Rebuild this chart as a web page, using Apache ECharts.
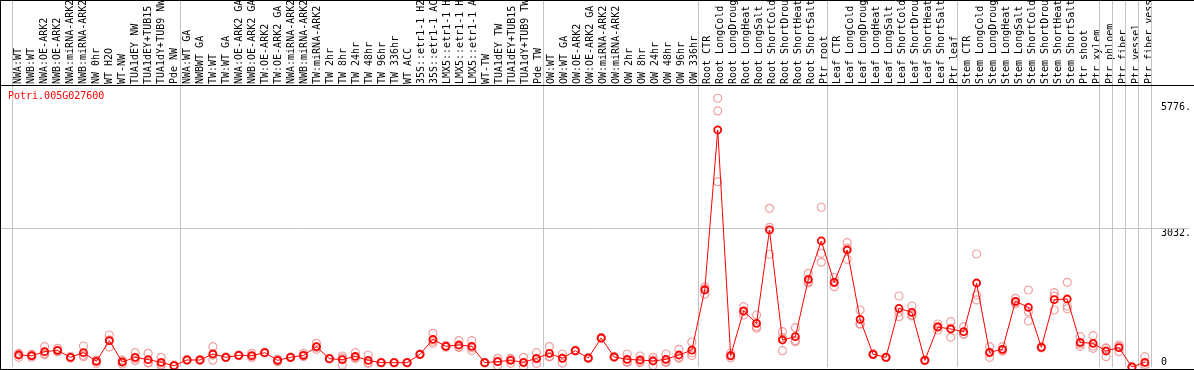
<!DOCTYPE html>
<html><head><meta charset="utf-8">
<script src="https://cdn.jsdelivr.net/npm/echarts@6/dist/echarts.min.js"></script>
<style>html,body{margin:0;padding:0;background:#fff}#c{width:1194px;height:370px}</style>
</head><body><div id="c"></div><script>
const geneName = 'Potri.005G027600';
const categories = [
 'NWA:WT','NWB:WT','NWA:OE-ARK2','NWB:OE-ARK2','NWA:miRNA-ARK2','NWB:miRNA-ARK2','NW 0hr','WT H2O','WT-NW','TUA1dEY NW','TUA1dEY+TUB15','TUA1dY+TUB9 NW','Pde NW',
 'NWA:WT GA','NWBWT GA','TW:WT','TW:WT GA','NWA:OE-ARK2 GA','NWB:OE-ARK2 GA','TW:OE-ARK2','TW:OE-ARK2 GA','NWA:miRNA-ARK2','NWB:miRNA-ARK2','TW:miRNA-ARK2','TW 2hr','TW 8hr','TW 24hr','TW 48hr','TW 96hr','TW 336hr','WT ACC','35S::etr1-1 H2','35S::etr1-1 AC','LMX5::etr1-1 H','LMX5::etr1-1 H','LMX5::etr1-1 A','WT-TW','TUA1dEY TW','TUA1dEY+TUB15','TUA1dY+TUB9 TW','Pde TW',
 'OW:WT','OW:WT GA','OW:OE-ARK2','OW:OE-ARK2 GA','OW:miRNA-ARK2','OW:miRNA-ARK2','OW 2hr','OW 8hr','OW 24hr','OW 48hr','OW 96hr','OW 336hr',
 'Root CTR','Root LongCold','Root LongDroug','Root LongHeat','Root LongSalt','Root ShortCold','Root ShortDrou','Root ShortHeat','Root ShortSalt','Ptr root',
 'Leaf CTR','Leaf LongCold','Leaf LongDroug','Leaf LongHeat','Leaf LongSalt','Leaf ShortCold','Leaf ShortDrou','Leaf ShortHeat','Leaf ShortSalt','Ptr leaf',
 'Stem CTR','Stem LongCold','Stem LongDroug','Stem LongHeat','Stem LongSalt','Stem ShortCold','Stem ShortDrou','Stem ShortHeat','Stem ShortSalt','Ptr shoot',
 'Ptr xylem','Ptr phloem','Ptr fiber','Ptr vessel','Ptr fiber vess'
];
const meanValues = [
 262,247,334,364,211,313,124,574,109,211,160,102,29,
 153,153,284,211,255,247,313,145,211,255,443,182,160,233,145,95,95,95,276,604,451,480,451,95,116,145,102,189,
 298,189,356,196,633,218,167,153,131,167,262,368,
 1680,5170,247,1222,953,2989,589,662,1913,2749,
 1847,2552,1040,276,211,1280,1193,145,873,829,
 771,1832,320,386,1433,1302,429,1469,1483,538,
 516,349,422,0,102
];
const rep1 = [
 298,280,443,407,225,458,153,698,150,313,298,211,40,
 160,160,443,220,262,298,320,170,215,298,516,190,240,313,262,100,100,100,280,735,470,574,574,100,189,190,211,313,
 443,284,370,205,640,222,284,240,211,284,386,545,
 1750,5862,300,1316,1134,3462,771,858,2044,3484,
 1948,2712,1243,290,215,1549,1331,150,938,989,
 880,2465,443,443,1498,1680,443,1622,1847,661,
 684,415,480,5,225
];
const rep2 = [
 275,247,290,350,211,255,140,590,110,180,95,60,27,
 152,152,260,208,255,235,313,150,211,240,427,180,195,200,93,95,95,95,276,561,451,441,419,95,130,165,95,174,
 226,198,350,193,632,218,117,124,153,117,211,310,
 1704,5585,241,1216,880,3046,640,576,1861,2480,
 1841,2595,940,270,211,1194,1135,145,874,851,
 720,1571,306,370,1420,1207,430,1542,1331,503,
 458,407,452,0,59
];
const rep3 = [
 211,215,270,335,198,225,80,435,65,140,88,35,20,
 147,147,150,205,248,208,306,116,207,227,386,176,44,186,80,90,90,90,272,516,432,425,360,90,29,80,0,80,
 225,85,348,190,627,214,100,95,29,100,189,249,
 1586,4042,200,1134,845,2459,356,552,1834,2284,
 1752,2349,938,268,207,1097,1113,140,807,647,
 713,1462,211,345,1381,1003,415,1243,1271,450,
 407,225,334,0,22
];
const groupBreaks = [0,13,41,53,63,73,84,85,86,87,88];
const yTickValues = [0, 3032, 5776];
const yTickLabels = ['0', '3032.', '5776.'];
const gridLineValue = 3032;

const pts = a => a.map((v, i) => [i, v]);
const font = 'DejaVu Sans Mono';
const xMin = -18.8 / 13, xMax = xMin + 1194 / 13;
const yMax = 8005;
const labelOf = v => yTickLabels[yTickValues.indexOf(v)];

const chart = echarts.init(document.getElementById('c'));
const repStyle = {color: 'rgba(0,0,0,0)', borderColor: '#ec8a8a', borderWidth: 1.2};
chart.setOption({
  animation: false,
  backgroundColor: '#fff',
  title: {text: geneName, left: 8, top: 91, padding: 0,
    textStyle: {color: '#ff0000', fontSize: 10, fontFamily: font, fontWeight: 'normal'}},
  grid: [
    {left: 12.3, right: 37.7, top: 85, height: 1, containLabel: false},
    {left: 0, right: 0, top: 0, bottom: 3, containLabel: false}
  ],
  xAxis: [
    {type: 'category', gridIndex: 0, position: 'top', data: categories, boundaryGap: true,
      axisLine: {show: false}, axisTick: {show: false}, splitLine: {show: false},
      axisLabel: {interval: 0, rotate: 90, margin: 2, fontSize: 10, fontFamily: font, color: '#000'}},
    {type: 'value', gridIndex: 1, min: xMin, max: xMax, show: false}
  ],
  yAxis: [
    {type: 'value', gridIndex: 0, show: false},
    {type: 'value', gridIndex: 1, min: 0, max: yMax, position: 'right', offset: -31,
      axisLine: {show: false}, axisTick: {show: false}, splitLine: {show: false},
      axisLabel: {customValues: yTickValues.slice(1), formatter: labelOf, margin: 3,
        verticalAlign: 'top', align: 'left', fontSize: 10, fontFamily: font, color: '#000'}},
    {type: 'value', gridIndex: 1, min: 0, max: yMax, position: 'right', offset: -31,
      axisLine: {show: false}, axisTick: {show: false}, splitLine: {show: false},
      axisLabel: {customValues: yTickValues.slice(0, 1), formatter: labelOf, margin: 3,
        verticalAlign: 'bottom', align: 'left', fontSize: 10, fontFamily: font, color: '#000'}}
  ],
  graphic: [
    {type: 'line', shape: {x1: 0, y1: 85.5, x2: 1194, y2: 85.5}, style: {stroke: '#000', lineWidth: 1}, z: 10},
    {type: 'line', shape: {x1: 0, y1: 0.5, x2: 1194, y2: 0.5}, style: {stroke: '#000', lineWidth: 1}, z: 10},
    {type: 'line', shape: {x1: 0.5, y1: 0, x2: 0.5, y2: 370}, style: {stroke: '#000', lineWidth: 1}, z: 10},
    {type: 'line', shape: {x1: 0, y1: 369.5, x2: 1194, y2: 369.5}, style: {stroke: '#000', lineWidth: 1}, z: 10}
  ],
  series: [
    {type: 'scatter', xAxisIndex: 1, yAxisIndex: 1, data: pts(rep1), symbol: 'circle', symbolSize: 8, itemStyle: repStyle,
      markLine: {silent: true, symbol: 'none', z: 1, label: {show: false},
        lineStyle: {color: '#c4c4c4', width: 1, type: 'solid'},
        data: groupBreaks.map(k => ({xAxis: k - 0.5})).concat([{yAxis: gridLineValue}])}},
    {type: 'scatter', xAxisIndex: 1, yAxisIndex: 1, data: pts(rep2), symbol: 'circle', symbolSize: 8, itemStyle: repStyle},
    {type: 'scatter', xAxisIndex: 1, yAxisIndex: 1, data: pts(rep3), symbol: 'circle', symbolSize: 8, itemStyle: repStyle},
    {type: 'line', xAxisIndex: 1, yAxisIndex: 1, data: pts(meanValues), symbol: 'circle', symbolSize: 7,
      itemStyle: {color: 'rgba(0,0,0,0)', borderColor: '#ff0000', borderWidth: 1.8},
      lineStyle: {color: '#ff0000', width: 1}}
  ]
});
</script></body></html>
